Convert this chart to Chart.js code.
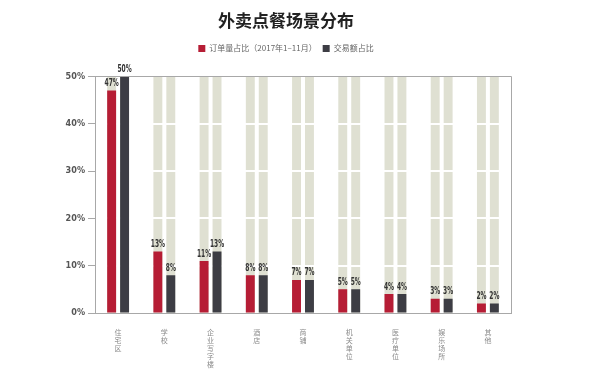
<!DOCTYPE html>
<html>
<head>
<meta charset="utf-8">
<script src="https://cdn.jsdelivr.net/npm/chart.js@4/dist/chart.umd.min.js"></script>
<style>
html,body{margin:0;padding:0;background:#fff;}
#wrap{width:610px;height:383px;position:relative;}
</style>
</head>
<body>
<div id="wrap"><canvas id="c"></canvas></div>
<script>
const categories = ['住宅区','学校','企业写字楼','酒店','商铺','机关单位','医疗单位','娱乐场所','其他'];
const orderShare = [47, 13, 11, 8, 7, 5, 4, 3, 2];
const tradeShare = [50, 8, 13, 8, 7, 5, 4, 3, 2];
const backgroundMax = [50, 50, 50, 50, 50, 50, 50, 50, 50];
const yTicks = [0, 10, 20, 30, 40, 50];
const seriesNames = ['订单量占比（2017年1–11月）', '交易额占比'];

const RED = '#b61d35';
const DARK = '#3d3d44';
const BG = '#dfe0d2';
const LINE = '#a8a8a8';
const NARROW = '"Liberation Sans Narrow", "DejaVu Sans Condensed", "Liberation Sans", sans-serif';
const CJK = '"Noto Sans CJK SC", "Noto Sans", sans-serif';

const CAT_PCT = 0.56, BAR_PCT = 0.69;

const segmentBreaks = {
  id: 'segmentBreaks',
  beforeDatasetDraw(chart, args) {
    if (args.index !== 1) return;
    const {ctx, chartArea} = chart;
    const y = chart.scales.y;
    ctx.save();
    ctx.strokeStyle = '#ffffff';
    ctx.lineWidth = 2;
    yTicks.slice(1, -1).forEach(v => {
      const py = Math.round(y.getPixelForValue(v));
      ctx.beginPath();
      ctx.moveTo(chartArea.left + 1, py);
      ctx.lineTo(chartArea.right - 1, py);
      ctx.stroke();
    });
    ctx.restore();
  }
};

const frame = {
  id: 'frame',
  afterDatasetsDraw(chart) {
    const {ctx, chartArea} = chart;
    ctx.save();
    ctx.strokeStyle = LINE;
    ctx.lineWidth = 1;
    ctx.beginPath();
    ctx.moveTo(chartArea.left, Math.round(chartArea.top) + 0.5);
    ctx.lineTo(Math.round(chartArea.right) + 0.5, Math.round(chartArea.top) + 0.5);
    ctx.lineTo(Math.round(chartArea.right) + 0.5, chartArea.bottom);
    ctx.stroke();
    ctx.restore();
  }
};

const valueLabels = {
  id: 'valueLabels',
  afterDatasetsDraw(chart) {
    const {ctx} = chart;
    [0, 1].forEach(di => {
      const meta = chart.getDatasetMeta(di);
      meta.data.forEach((el, i) => {
        const v = chart.data.datasets[di].data[i];
        ctx.save();
        ctx.translate(el.x, el.y - 2);
        ctx.scale(0.66, 1);
        ctx.font = 'bold 10px ' + NARROW;
        ctx.fillStyle = '#333';
        ctx.textAlign = 'center';
        ctx.textBaseline = 'bottom';
        ctx.fillText(v + '%', 0, 0);
        ctx.restore();
      });
    });
  }
};

new Chart(document.getElementById('c'), {
  type: 'bar',
  data: {
    labels: categories,
    datasets: [
      {label: seriesNames[0], data: orderShare, backgroundColor: RED, stack: 'a', order: 1,
       categoryPercentage: CAT_PCT, barPercentage: BAR_PCT},
      {label: seriesNames[1], data: tradeShare, backgroundColor: DARK, stack: 'b', order: 1,
       categoryPercentage: CAT_PCT, barPercentage: BAR_PCT},
      {label: 'bg1', data: backgroundMax, backgroundColor: BG, stack: 'a', order: 2,
       categoryPercentage: CAT_PCT, barPercentage: BAR_PCT},
      {label: 'bg2', data: backgroundMax, backgroundColor: BG, stack: 'b', order: 2,
       categoryPercentage: CAT_PCT, barPercentage: BAR_PCT}
    ]
  },
  options: {
    responsive: true,
    maintainAspectRatio: false,
    animation: false,
    layout: {padding: {left: 61, right: 99, top: 0, bottom: 0}},
    plugins: {
      tooltip: {enabled: false},
      title: {
        display: true,
        text: '外卖点餐场景分布',
        color: '#222',
        font: {family: CJK, size: 17, weight: 'bold'},
        padding: {top: 10, bottom: 8}
      },
      legend: {
        display: true,
        labels: {
          filter: item => item.datasetIndex < 2,
          boxWidth: 7,
          boxHeight: 7,
          padding: 6,
          color: '#666',
          font: {family: CJK, size: 8}
        }
      }
    },
    scales: {
      x: {
        type: 'category',
        offset: true,
        grid: {display: false},
        border: {display: true, color: LINE},
        afterFit: axis => { axis.height = 70; },
        ticks: {
          autoSkip: false,
          maxRotation: 0,
          minRotation: 0,
          padding: 7,
          color: '#8a8a8a',
          font: {family: CJK, size: 7, lineHeight: 1.15},
          callback: function(v, i) { return categories[i].split(''); }
        }
      },
      xTop: {
        type: 'category',
        position: 'top',
        offset: true,
        display: true,
        grid: {display: false},
        border: {display: false},
        ticks: {display: false},
        afterFit: axis => { axis.height = 14; }
      },
      y: {
        min: 0,
        max: 50,
        stacked: false,
        afterBuildTicks: axis => { axis.ticks = yTicks.map(v => ({value: v})); },
        afterFit: axis => { axis.width = 34; },
        grid: {drawOnChartArea: false, tickLength: 7, color: LINE},
        border: {display: true, color: LINE},
        ticks: {
          padding: 3,
          color: '#555',
          font: {family: NARROW, size: 9, weight: 'bold'},
          callback: v => v + '%'
        }
      }
    }
  },
  plugins: [segmentBreaks, frame, valueLabels]
});
</script>
</body>
</html>
